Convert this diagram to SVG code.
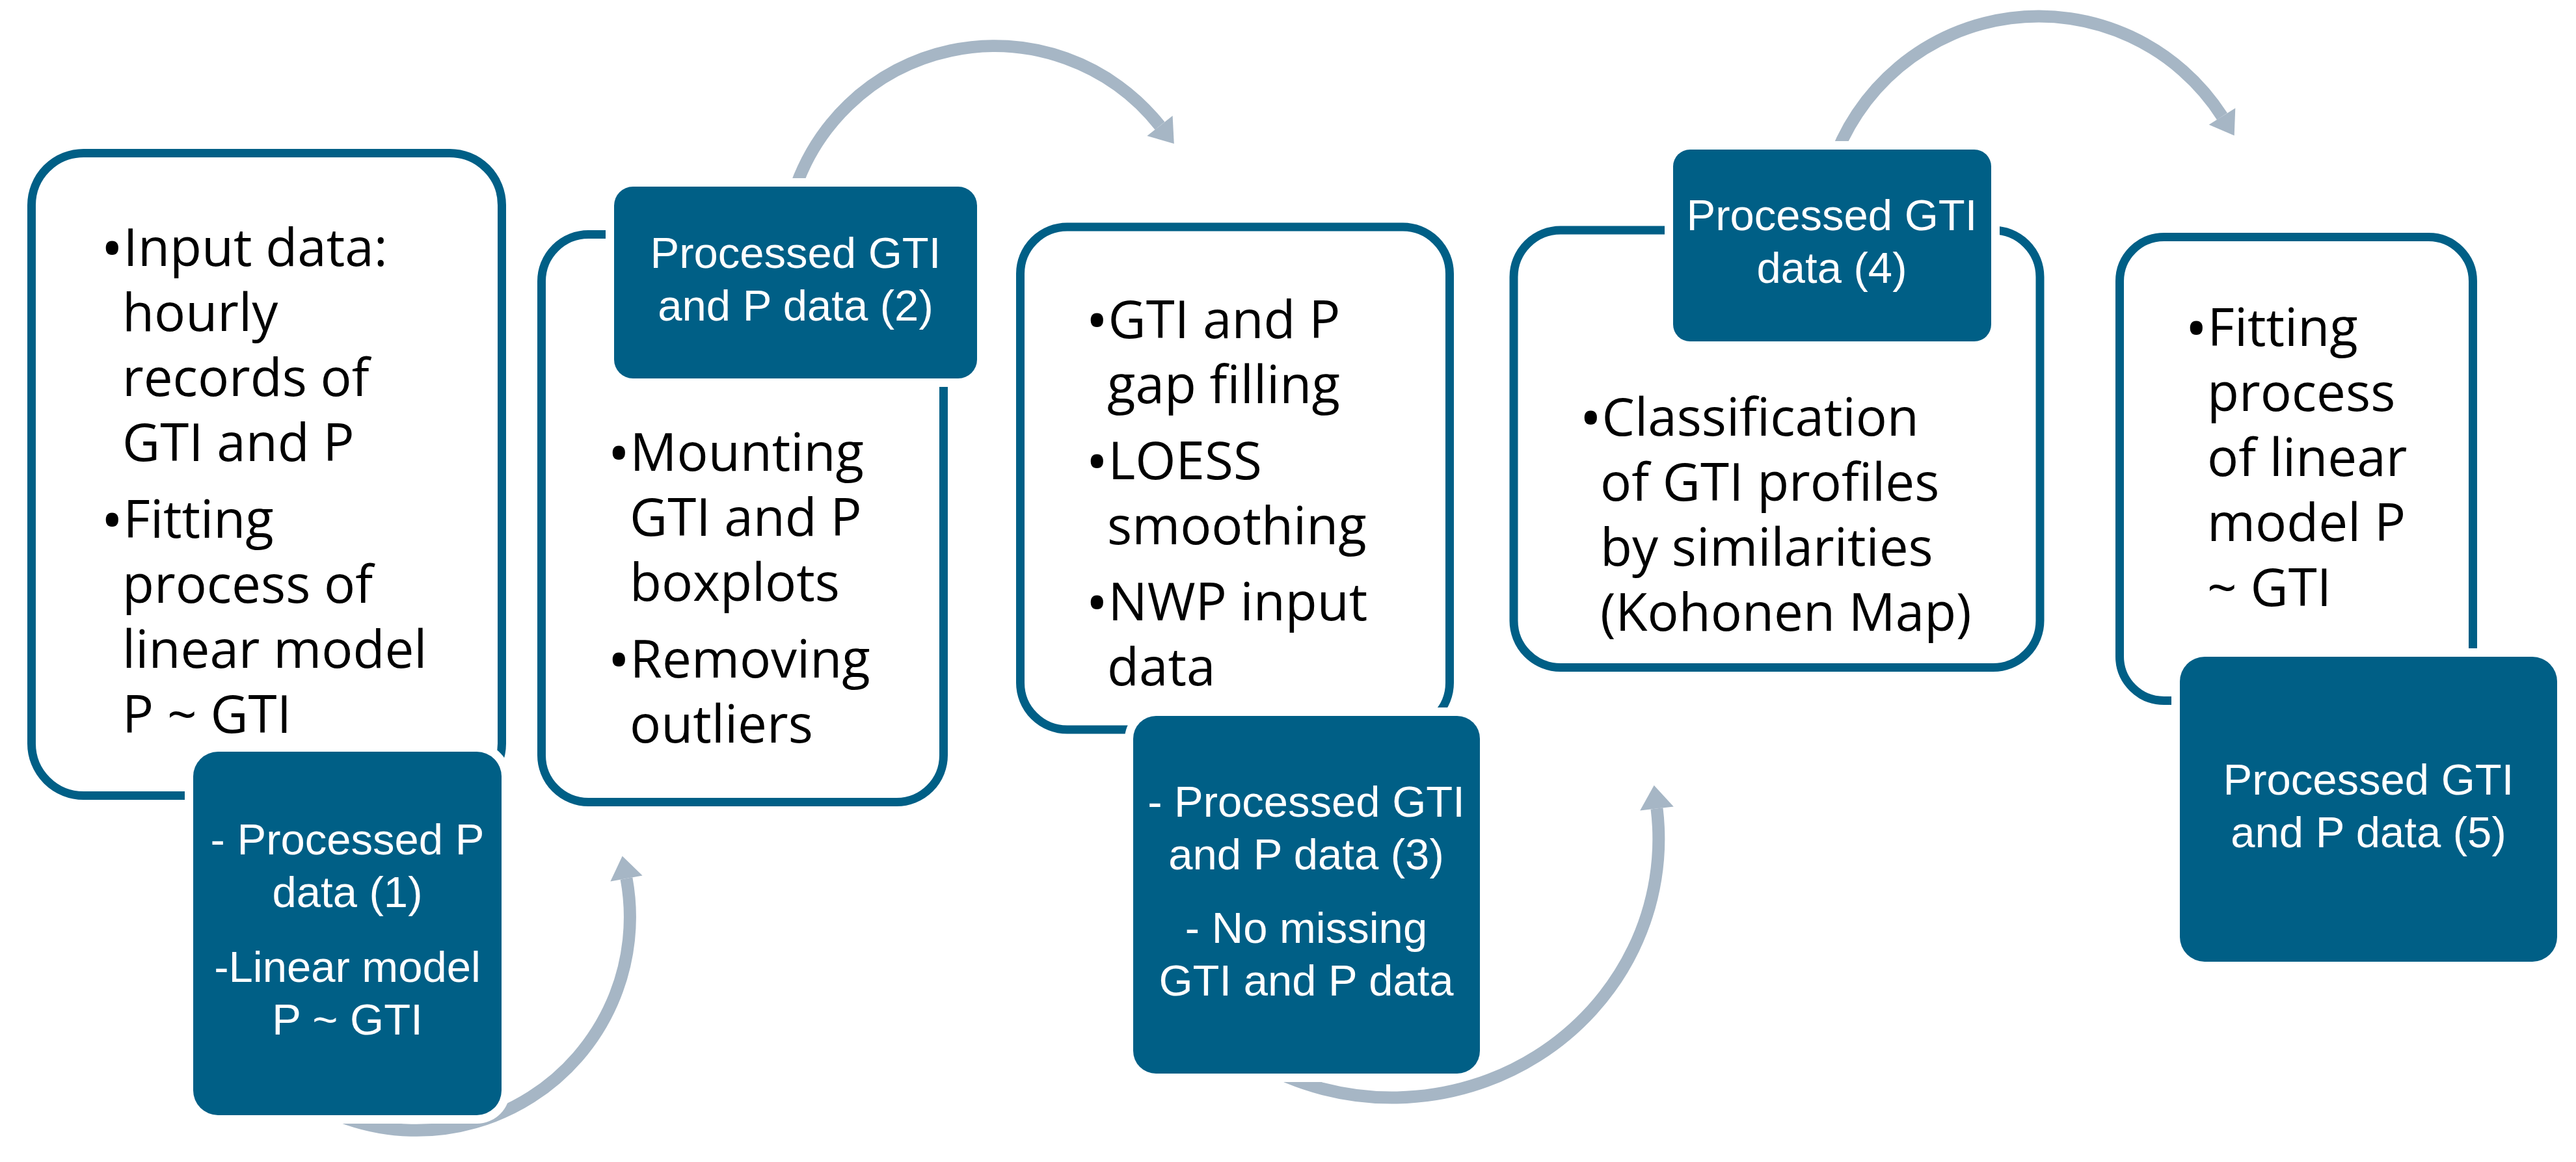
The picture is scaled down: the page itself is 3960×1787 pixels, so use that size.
<svg xmlns="http://www.w3.org/2000/svg" width="3960" height="1787" viewBox="0 0 3960 1787">
<style>
.bg{fill:#ffffff}
.outline{fill:#ffffff;stroke:#005F86;stroke-width:13}
.dark{fill:#005F86}
.halo{fill:#ffffff}
.arc{fill:none;stroke:#A6B6C5;stroke-width:19}
.head{fill:#A6B6C5}
.t{font-family:'Open Sans','Liberation Sans',sans-serif;font-size:80px;fill:#000000}
.bl{font-size:92px}
.w{font-family:'Liberation Sans',Arial,sans-serif;font-size:67px;fill:#ffffff;text-anchor:middle}
</style>
<rect class="bg" x="0" y="0" width="3960" height="1787"/>
<g id="connectors">
  <path class="arc" d="M450,1677.4 A328,328 0 0 0 963,1351"/>
  <polygon class="head" points="987.6,1346.5 956.7,1316.5 938.4,1355.5"/>
  <path class="arc" d="M1215,315 A324,324 0 0 1 1783,193.5"/>
  <polygon class="head" points="1802.6,178 1804.8,220.9 1763.4,209"/>
  <path class="arc" d="M1930,1632 A410,398 0 0 0 2547,1243.5"/>
  <polygon class="head" points="2572.8,1240.4 2542.7,1207.8 2521.2,1246.6"/>
  <path class="arc" d="M2815,258 A335,335 0 0 1 3416,179"/>
  <polygon class="head" points="3436.3,166.2 3434.7,208.6 3395.7,191.8"/>
</g>
<g id="node-1">
  <rect class="outline" x="48.5" y="235.5" width="723" height="988" rx="80"/>
  <text class="t" x="155" y="409"><tspan class="bl" dy="6">•</tspan><tspan dy="-6">Input data:</tspan></text>
  <text class="t" x="188" y="509">hourly</text>
  <text class="t" x="188" y="609">records of</text>
  <text class="t" x="188" y="709">GTI and P</text>
  <text class="t" x="155" y="827"><tspan class="bl" dy="6">•</tspan><tspan dy="-6">Fitting</tspan></text>
  <text class="t" x="188" y="927">process of</text>
  <text class="t" x="188" y="1027">linear model</text>
  <text class="t" x="188" y="1127">P ~ GTI</text>
</g>
<g id="output-1">
  <rect class="halo" x="284" y="1143" width="500" height="585" rx="51"/>
  <rect class="dark" x="297" y="1156" width="474" height="559" rx="38"/>
  <text class="w" x="534" y="1314">- Processed P</text>
  <text class="w" x="534" y="1395">data (1)</text>
  <text class="w" x="534" y="1510">-Linear model</text>
  <text class="w" x="534" y="1591">P ~ GTI</text>
</g>
<g id="node-2">
  <rect class="outline" x="832.5" y="360.5" width="618" height="873" rx="72"/>
  <text class="t" x="934" y="724"><tspan class="bl" dy="6">•</tspan><tspan dy="-6">Mounting</tspan></text>
  <text class="t" x="968" y="824">GTI and P</text>
  <text class="t" x="968" y="924">boxplots</text>
  <text class="t" x="934" y="1042"><tspan class="bl" dy="6">•</tspan><tspan dy="-6">Removing</tspan></text>
  <text class="t" x="968" y="1142">outliers</text>
</g>
<g id="output-2">
  <rect class="halo" x="931" y="274" width="584" height="321" rx="42"/>
  <rect class="dark" x="944" y="287" width="558" height="295" rx="29"/>
  <text class="w" x="1223" y="412">Processed GTI</text>
  <text class="w" x="1223" y="493">and P data (2)</text>
</g>
<g id="node-3">
  <rect class="outline" x="1568.5" y="349" width="660" height="773" rx="72"/>
  <text class="t" x="1669" y="520"><tspan class="bl" dy="6">•</tspan><tspan dy="-6">GTI and P</tspan></text>
  <text class="t" x="1702" y="620">gap filling</text>
  <text class="t" x="1669" y="737"><tspan class="bl" dy="6">•</tspan><tspan dy="-6">LOESS</tspan></text>
  <text class="t" x="1702" y="837">smoothing</text>
  <text class="t" x="1669" y="954"><tspan class="bl" dy="6">•</tspan><tspan dy="-6">NWP input</tspan></text>
  <text class="t" x="1702" y="1054">data</text>
</g>
<g id="output-3">
  <rect class="halo" x="1729" y="1088" width="559" height="576" rx="48"/>
  <rect class="dark" x="1742" y="1101" width="533" height="550" rx="35"/>
  <text class="w" x="2008" y="1256">- Processed GTI</text>
  <text class="w" x="2008" y="1337">and P data (3)</text>
  <text class="w" x="2008" y="1450">- No missing</text>
  <text class="w" x="2008" y="1531">GTI and P data</text>
</g>
<g id="node-4">
  <rect class="outline" x="2327" y="354" width="809" height="672.5" rx="72"/>
  <text class="t" x="2428" y="670"><tspan class="bl" dy="6">•</tspan><tspan dy="-6">Classification</tspan></text>
  <text class="t" x="2460" y="770">of GTI profiles</text>
  <text class="t" x="2460" y="870">by similarities</text>
  <text class="t" x="2460" y="970">(Kohonen Map)</text>
</g>
<g id="output-4">
  <rect class="halo" x="2559" y="217" width="515" height="321" rx="39"/>
  <rect class="dark" x="2572" y="230" width="489" height="295" rx="26"/>
  <text class="w" x="2816" y="354">Processed GTI</text>
  <text class="w" x="2816" y="435">data (4)</text>
</g>
<g id="node-5">
  <rect class="outline" x="3258.5" y="364.5" width="543" height="713" rx="68"/>
  <text class="t" x="3359" y="532"><tspan class="bl" dy="6">•</tspan><tspan dy="-6">Fitting</tspan></text>
  <text class="t" x="3393" y="632">process</text>
  <text class="t" x="3393" y="732">of linear</text>
  <text class="t" x="3393" y="832">model P</text>
  <text class="t" x="3393" y="932">~ GTI</text>
</g>
<g id="output-5">
  <rect class="halo" x="3338" y="997" width="606" height="495" rx="51"/>
  <rect class="dark" x="3351" y="1010" width="580" height="469" rx="38"/>
  <text class="w" x="3641" y="1222">Processed GTI</text>
  <text class="w" x="3641" y="1303">and P data (5)</text>
</g>
</svg>
